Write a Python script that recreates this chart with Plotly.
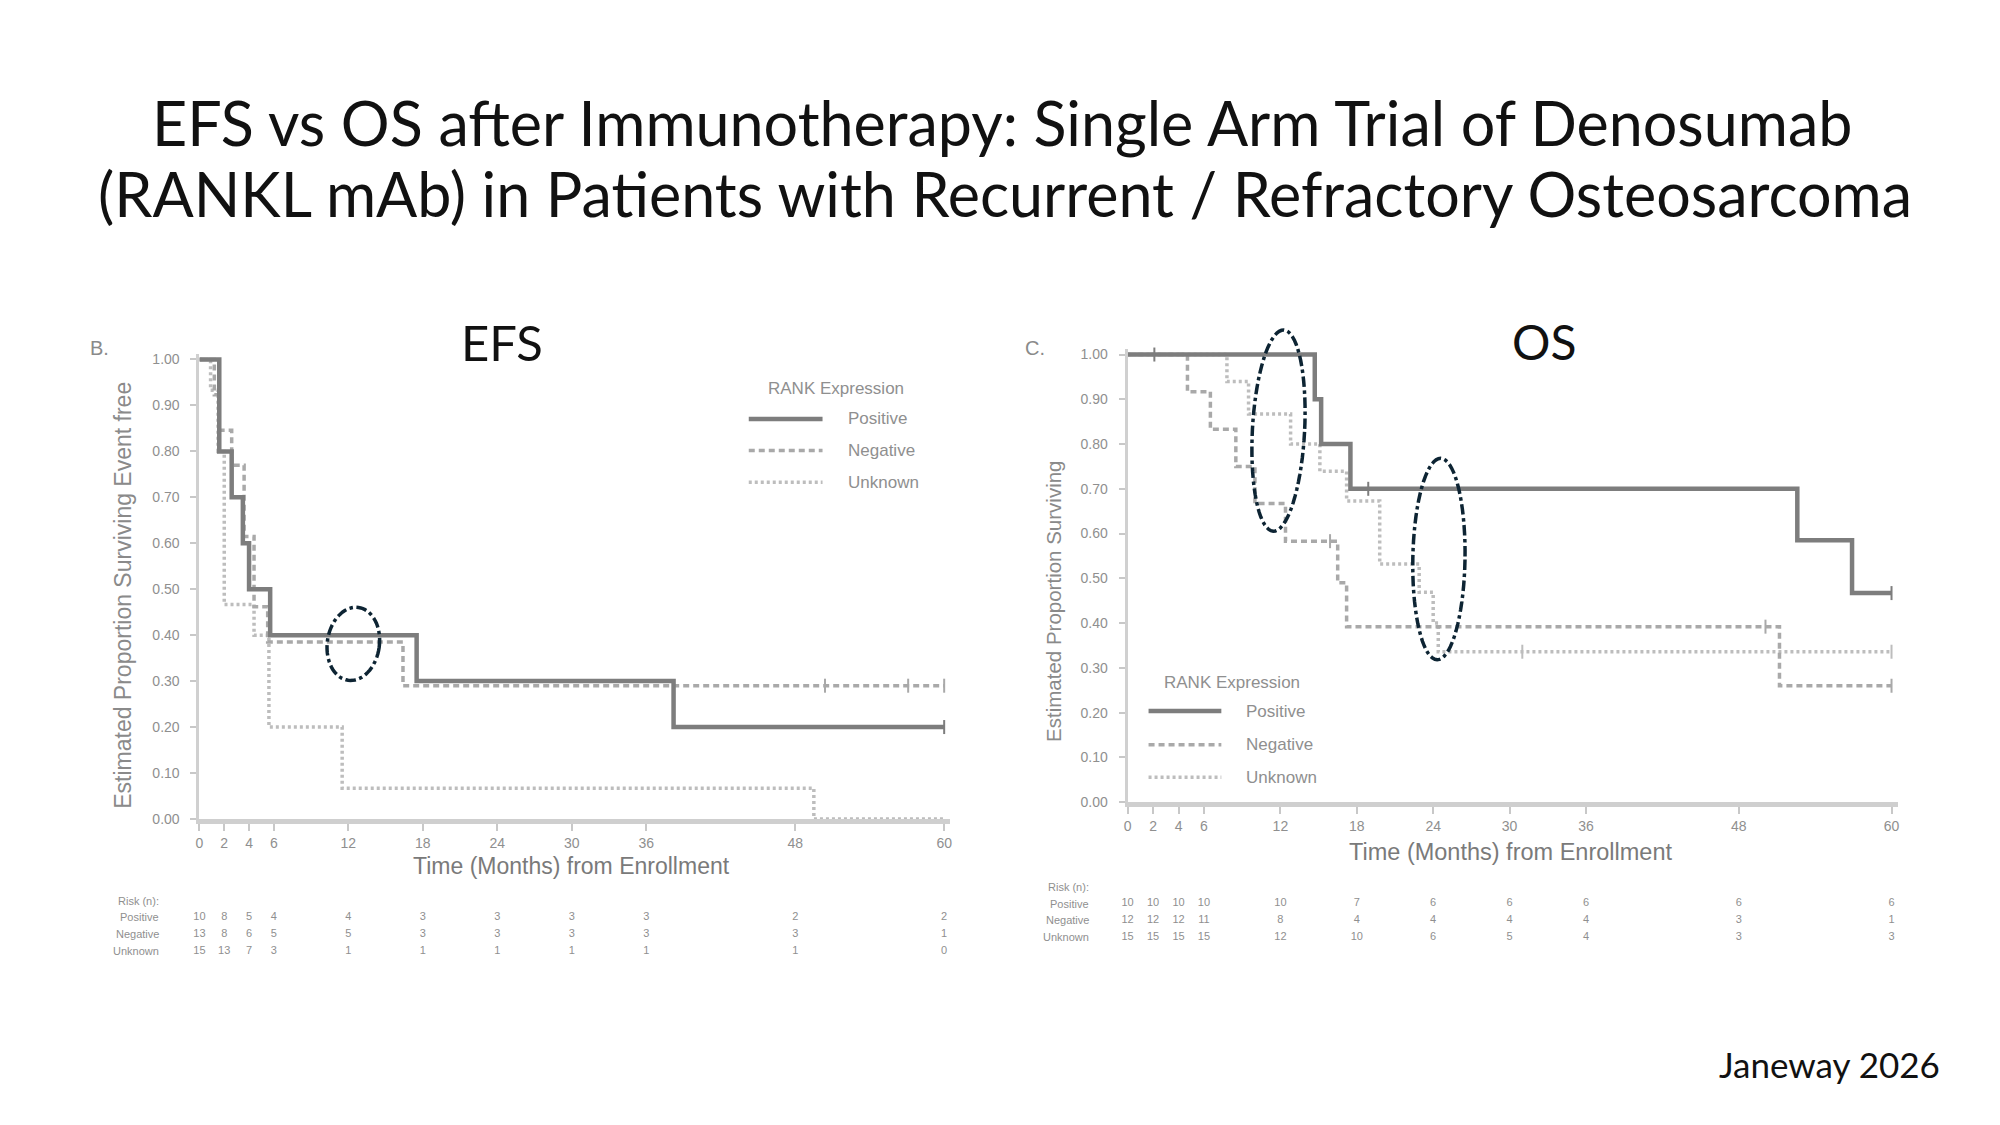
import numpy as np
import plotly.graph_objs as go

W, H = 2000, 1125

# risk table columns (months) and row labels
risk_times = [0, 2, 4, 6, 12, 18, 24, 30, 36, 48, 60]
risk_rows = ['Risk (n):', 'Positive', 'Negative', 'Unknown']
x_ticks = [0, 2, 4, 6, 12, 18, 24, 30, 36, 48, 60]

# EFS curves: step times (months) and proportion event free
efs_pos_t = [0, 1.6, 2.6, 3.5, 4.0, 5.7, 17.5, 38.2, 60]
efs_pos_s = [1.0, 0.8, 0.7, 0.6, 0.5, 0.4, 0.3, 0.2, 0.2]
efs_neg_t = [0, 1.2, 1.6, 2.6, 3.6, 4.4, 5.5, 16.4, 60]
efs_neg_s = [1.0, 0.923, 0.846, 0.77, 0.615, 0.462, 0.385, 0.29, 0.29]
efs_unk_t = [0, 0.9, 1.5, 2.0, 4.4, 5.6, 11.5, 49.5, 60]
efs_unk_s = [1.0, 0.933, 0.8, 0.467, 0.4, 0.2, 0.067, 0.0, 0.0]
efs_neg_cens_t = [50.4, 57.1, 60]
efs_neg_cens_s = [0.29, 0.29, 0.29]
efs_pos_cens_t = [60]
efs_pos_cens_s = [0.2]

# OS curves
os_pos_t = [0, 14.7, 15.2, 17.5, 52.6, 56.9, 60]
os_pos_s = [1.0, 0.9, 0.8, 0.7, 0.585, 0.467, 0.467]
os_neg_t = [0, 4.7, 6.5, 8.5, 10.0, 12.4, 16.5, 17.2, 51.2, 60]
os_neg_s = [1.0, 0.917, 0.833, 0.75, 0.667, 0.583, 0.49, 0.392, 0.26, 0.26]
os_unk_t = [0, 7.8, 9.5, 12.8, 15.1, 17.2, 19.8, 22.9, 24.0, 24.4, 60]
os_unk_s = [1.0, 0.94, 0.867, 0.8, 0.739, 0.673, 0.532, 0.469, 0.4, 0.336, 0.336]
os_pos_cens_t = [2.1, 18.9, 60]
os_pos_cens_s = [1.0, 0.7, 0.467]
os_neg_cens_t = [15.9, 50.1, 60]
os_neg_cens_s = [0.583, 0.392, 0.26]
os_unk_cens_t = [31.0, 60]
os_unk_cens_s = [0.336, 0.336]

# numbers at risk
efs_risk_pos = [10, 8, 5, 4, 4, 3, 3, 3, 3, 2, 2]
efs_risk_neg = [13, 8, 6, 5, 5, 3, 3, 3, 3, 3, 1]
efs_risk_unk = [15, 13, 7, 3, 1, 1, 1, 1, 1, 1, 0]
os_risk_pos = [10, 10, 10, 10, 10, 7, 6, 6, 6, 6, 6]
os_risk_neg = [12, 12, 12, 11, 8, 4, 4, 4, 4, 3, 1]
os_risk_unk = [15, 15, 15, 15, 12, 10, 6, 5, 4, 3, 3]

# plot areas in pixels: (x at 0 months, px per month, y at 0, px per unit)
EFS_AX = (196, 12.45, 824, 464)
OS_AX = (1127, 12.77, 807, 452)


def px(x):
    return x / W


def py(y):
    return 1 - y / H


POS = dict(color='#7d7d7d', width=4.5, dash='solid')
NEG = dict(color='#a9a9a9', width=3.5, dash='6px,4px')
UNK = dict(color='#bdbdbd', width=3.5, dash='3px,3px')
TXT = 'Liberation Sans Narrow, Liberation Sans, Arial'
GRAY = '#8a8a8a'

fig = go.Figure()


def add_curve(t, s, style, xa, ya):
    fig.add_trace(go.Scatter(x=t, y=s, mode='lines', line=dict(shape='hv', **style),
                             xaxis=xa, yaxis=ya, showlegend=False, hoverinfo='skip'))


def add_cens(t, s, style, xa, ya):
    fig.add_trace(go.Scatter(x=t, y=s, mode='markers', cliponaxis=False,
                             marker=dict(symbol='line-ns', size=10,
                                         line=dict(width=2, color=style['color'])),
                             xaxis=xa, yaxis=ya, showlegend=False, hoverinfo='skip'))


# EFS panel
add_curve(efs_unk_t, efs_unk_s, UNK, 'x', 'y')
add_curve(efs_neg_t, efs_neg_s, NEG, 'x', 'y')
add_curve(efs_pos_t, efs_pos_s, POS, 'x', 'y')
add_cens(efs_neg_cens_t, efs_neg_cens_s, NEG, 'x', 'y')
add_cens(efs_pos_cens_t, efs_pos_cens_s, POS, 'x', 'y')

# OS panel
add_curve(os_unk_t, os_unk_s, UNK, 'x2', 'y2')
add_curve(os_neg_t, os_neg_s, NEG, 'x2', 'y2')
add_curve(os_pos_t, os_pos_s, POS, 'x2', 'y2')
add_cens(os_unk_cens_t, os_unk_cens_s, UNK, 'x2', 'y2')
add_cens(os_neg_cens_t, os_neg_cens_s, NEG, 'x2', 'y2')
add_cens(os_pos_cens_t, os_pos_cens_s, POS, 'x2', 'y2')

# risk tables
for xa, ya, rows in [('x', 'y3', [efs_risk_pos, efs_risk_neg, efs_risk_unk]),
                     ('x2', 'y4', [os_risk_pos, os_risk_neg, os_risk_unk])]:
    for i, vals in enumerate(rows):
        fig.add_trace(go.Scatter(x=risk_times, y=[i + 1] * len(risk_times), text=[str(v) for v in vals],
                                 mode='text', textfont=dict(family=TXT, size=11, color='#8f8f8f'),
                                 cliponaxis=False, xaxis=xa, yaxis=ya, showlegend=False,
                                 hoverinfo='skip'))

xstyle = dict(range=[0, 60.5], tickvals=x_ticks, showgrid=False, zeroline=False,
              showline=True, linecolor='#cfcfcf', linewidth=5, ticks='outside',
              ticklen=7, tickwidth=2, tickcolor='#c8c8c8',
              tickfont=dict(family=TXT, size=14, color='#8f8f8f'))
ystyle = dict(range=[0, 1.012], tickvals=[i / 10 for i in range(11)], tickformat='.2f',
              showgrid=False, zeroline=False, showline=True, linecolor='#d0d0d0',
              linewidth=3, ticks='outside', ticklen=6, tickwidth=2, tickcolor='#c8c8c8',
              ticklabelstandoff=8,
              tickfont=dict(family=TXT, size=14, color='#8f8f8f'))
hidden = dict(visible=False, range=[3.5, -0.5])


def dom(ax):
    x0, kx, y0, ky = ax
    return [px(x0), px(x0 + 60.5 * kx)], [py(y0), py(y0 - 1.012 * ky)]


ex, ey = dom(EFS_AX)
ox, oy = dom(OS_AX)
fig.update_layout(
    width=W, height=H, margin=dict(l=0, r=0, t=0, b=0),
    paper_bgcolor='white', plot_bgcolor='white',
    xaxis=dict(domain=ex, anchor='y', **xstyle),
    yaxis=dict(domain=ey, anchor='x', **ystyle),
    xaxis2=dict(domain=ox, anchor='y2', **xstyle),
    yaxis2=dict(domain=oy, anchor='x2', **ystyle),
    yaxis3=dict(domain=[py(966), py(898)], anchor='x', **hidden),
    yaxis4=dict(domain=[py(952), py(884)], anchor='x2', **hidden),
)

ann = []
# main title
ann.append(dict(text='EFS vs OS after Immunotherapy: Single Arm Trial of Denosumab',
                x=px(1001), y=py(121), font=dict(family='Lato', size=61, color='#111111')))
ann.append(dict(text='(RANKL mAb) in Patients with Recurrent / Refractory Osteosarcoma',
                x=px(1004), y=py(192), font=dict(family='Lato', size=61, color='#111111')))
ann.append(dict(text='EFS', x=px(499), y=py(342), font=dict(family='Lato', size=49, color='#111111')))
ann.append(dict(text='OS', x=px(1545), y=py(342), font=dict(family='Lato', size=48, color='#111111')))
ann.append(dict(text='Janeway 2026', x=px(1944), y=py(1071), xanchor='right',
                font=dict(family='Lato', size=35, color='#111111')))
ann.append(dict(text='B.', x=px(96), y=py(348), font=dict(family=TXT, size=20, color=GRAY)))
ann.append(dict(text='C.', x=px(1034), y=py(348), font=dict(family=TXT, size=20, color=GRAY)))

# axis titles
ann.append(dict(text='Time (Months) from Enrollment', x=px(569), y=py(872),
                font=dict(family=TXT, size=23, color='#7a7a7a')))
ann.append(dict(text='Time (Months) from Enrollment', x=px(1511), y=py(857),
                font=dict(family=TXT, size=23.5, color='#7a7a7a')))
ann.append(dict(text='Estimated Proportion Surviving Event free', x=px(120), y=py(598),
                textangle=-90, font=dict(family=TXT, size=23, color='#8a8a8a')))
ann.append(dict(text='Estimated Proportion Surviving', x=px(1052), y=py(604),
                textangle=-90, font=dict(family=TXT, size=20.5, color='#8a8a8a')))

# risk table row labels
for ya, xr in [('y3', 157), ('y4', 1090)]:
    for i, lab in enumerate(risk_rows):
        ann.append(dict(text=lab, xref='paper', yref=ya, x=px(xr), y=i, xanchor='right',
                        font=dict(family=TXT, size=11, color='#8f8f8f')))

shapes = []
# legends drawn as small samples with labels
for (tx, ty, lx0, lx1, tx2, rows_y) in [(835, 389, 747, 821, 845, [420, 452, 484]),
                                        (1232, 686, 1148, 1221, 1244, [715, 749, 782])]:
    ann.append(dict(text='RANK Expression', x=px(tx), y=py(ty),
                    font=dict(family=TXT, size=17, color='#8f8f8f')))
    for lab, st, yy in zip(['Positive', 'Negative', 'Unknown'], [POS, NEG, UNK], rows_y):
        shapes.append(dict(type='line', xref='paper', yref='paper', x0=px(lx0), x1=px(lx1),
                           y0=py(yy), y1=py(yy), line=dict(color=st['color'], width=st['width'],
                                                          dash=st['dash'])))
        ann.append(dict(text=lab, x=px(tx2), y=py(yy), xanchor='left',
                        font=dict(family=TXT, size=17, color='#8f8f8f')))


# highlight ellipses (slightly tilted), centre given in months / proportion
def ellipse(ax, cm, cs, rm, rs, tilt):
    x0, kx, y0, ky = ax
    cx, cy = x0 + cm * kx, y0 - cs * ky
    rx, ry = rm * kx, rs * ky
    a = np.radians(tilt)
    t = np.linspace(0, 2 * np.pi, 73)
    dx, dy = rx * np.cos(t), ry * np.sin(t)
    xs = cx + dx * np.cos(a) - dy * np.sin(a)
    ys = cy + dx * np.sin(a) + dy * np.cos(a)
    d = 'M ' + ' L '.join(f'{px(x):.5f},{py(y):.5f}' for x, y in zip(xs, ys)) + ' Z'
    return dict(type='path', path=d, xref='paper', yref='paper',
                line=dict(color='#0d2433', width=3.5, dash='dashdot'))


shapes.append(ellipse(EFS_AX, 12.4, 0.381, 2.1, 0.08, 8))
shapes.append(ellipse(OS_AX, 11.85, 0.83, 2.05, 0.225, 3))
shapes.append(ellipse(OS_AX, 24.45, 0.543, 2.05, 0.225, 1))

for a in ann:
    a.setdefault('xref', 'paper')
    a.setdefault('yref', 'paper')
    a.setdefault('showarrow', False)
    a.setdefault('xanchor', 'center')
    a.setdefault('yanchor', 'middle')

fig.update_layout(annotations=ann, shapes=shapes)

fig.write_html('out.html', config={'displayModeBar': False},
               post_script="document.body.style.margin='0';")
